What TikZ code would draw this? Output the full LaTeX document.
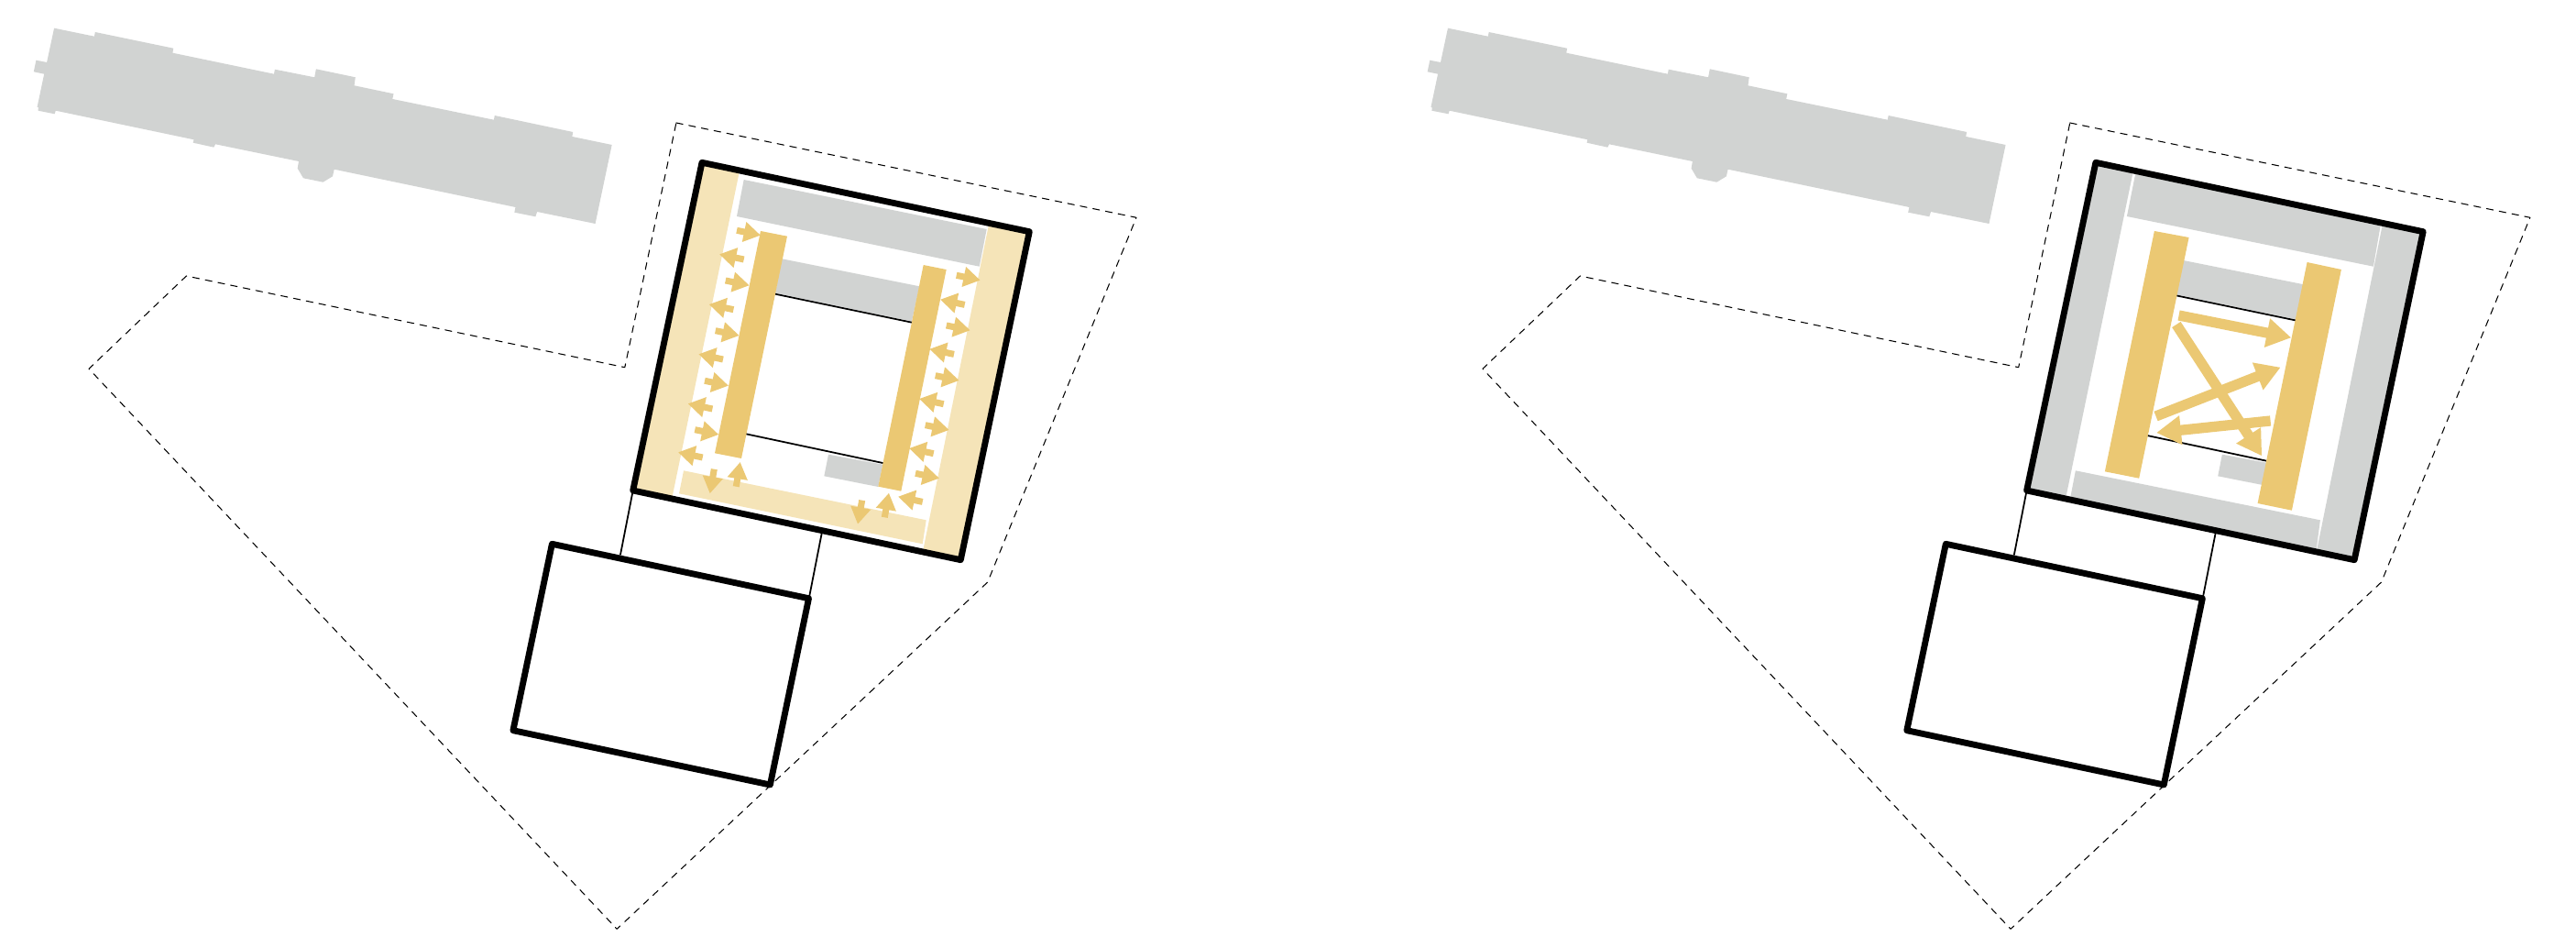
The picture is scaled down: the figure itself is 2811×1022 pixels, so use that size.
\documentclass[tikz,border=0pt]{standalone}
\usepackage{tikz}
\usetikzlibrary{calc, arrows.meta}
\usepackage{tkz-euclide}
\usepackage{xcolor}

\definecolor{oldgrey}{HTML}{D1D3D2}
\definecolor{sand}{HTML}{EBC873}
\definecolor{palesand}{HTML}{F5E4B8}

\tikzset{
    wall/.style = {black, line width = 1.95pt, line join = round},
    thinline/.style = {black, line width = 0.5pt},
    boundary/.style = {black, line width = 0.3pt, dash pattern = on 2.1pt off 1.9pt},
    smallflow/.style = {sand, line width = 2pt, -{Triangle[length = 5.2pt, width = 6pt]}},
    bigflow/.style = {sand, line width = 3.2pt, -{Triangle[length = 7.6pt, width = 8.6pt]}}
}

% what both panels share
\newcommand{\siteshapes}{
    \fill[oldgrey] (59.1,-30.7) -- (102.9,-39.7) -- (103.8,-35) -- (189.2,-52.7) -- (188.4,-57.7)
        -- (299,-80.7) -- (299.9,-75.7) -- (343.2,-84.3) -- (344.9,-75.3) -- (387.8,-84.3)
        -- (386.6,-93.3) -- (429.5,-102.3) -- (428.3,-108) -- (538.9,-130.7) -- (539.8,-126)
        -- (625.2,-144) -- (624.4,-149) -- (667.7,-158) -- (649.6,-244) -- (586.1,-231)
        -- (584.4,-236.3) -- (561.3,-231.7) -- (562.5,-226) -- (364.7,-184.7) -- (363,-192.3)
        -- (352.5,-198.7) -- (331,-194.3) -- (324.7,-183.7) -- (326,-176) -- (235.1,-157.3)
        -- (233.4,-160.7) -- (210.7,-155.7) -- (211.5,-152.3) -- (60.8,-120.7) -- (59.6,-124.3)
        -- (41.5,-120.7) -- (41.9,-117.3) -- (40.6,-116.7) -- (48.2,-80.7) -- (36.8,-78.3)
        -- (39.4,-65.7) -- (51.1,-68) -- cycle;
    \tkzDefPoints{737.9/-134/S, 1240/-237.3/T, 1077.7/-635/U, 673.2/-1013.3/V, 97/-402.3/W, 203.4/-301/X, 681.8/-400.7/Y}
    \tkzDefPoints{766/-177.3/A, 1123.3/-252.7/B, 1048.3/-610.7/C, 690.7/-535/D}
    \tkzDefPoints{602.4/-593.3/E, 882.5/-652.7/F, 840.4/-856/G, 559.9/-796.7/H}
    \tkzDefPoints{677/-605/J, 896.7/-581.7/K, 883.3/-650/L}
    \tkzDefPoints{807.3/-185/M, 733.3/-543.3/N, 1079.3/-243.3/P, 1006.9/-602/Q}
    \tkzDefPoints{853.3/-282.3/R1, 1003.3/-312.3/R2, 995/-350.5/R3, 846/-319.5/R4}
    \tkzDefPoints{904/-495.7/Z1, 963.3/-506.7/Z2, 958.3/-531/Z3, 899.3/-519.3/Z4}
    \tkzDefPoints{846/-320.7/I1, 995/-351.7/I2, 814/-473.3/I3, 963.3/-505/I4}
    \tkzFillPolygon[fill = oldgrey](R1,R2,R3,R4)
    \tkzFillPolygon[fill = oldgrey](Z1,Z2,Z3,Z4)
    \tkzDrawSegments[thinline](I1,I2 I3,I4)
}
\newcommand{\siteoutlines}{
    \tkzDrawPolygon[boundary](S,T,U,V,W,X,Y)
    \tkzDrawSegments[thinline](D,J K,L)
    \tkzDrawPolygon[wall](A,B,C,D)
    \tkzDrawPolygon[wall](E,F,G,H)
}

\begin{document}
\begin{tikzpicture}[x = 0.01cm, y = 0.01cm]
    \useasboundingbox (0,0) rectangle (2811,-1022);

    % left panel
    \begin{scope}
        \siteshapes
        \tkzFillPolygon[fill = palesand](A,M,N,D)
        \tkzFillPolygon[fill = palesand](P,B,C,Q)
        \tkzDefPoints{746/-513.3/a1, 1010.7/-567.3/a2, 1006.7/-593.3/a3, 741/-538.3/a4}
        \tkzFillPolygon[fill = palesand](a1,a2,a3,a4)
        \tkzDefPoints{811.7/-196/b1, 1076.7/-250/b2, 1068.7/-290.7/b3, 804/-236/b4}
        \tkzFillPolygon[fill = oldgrey](b1,b2,b3,b4)
        \tkzDefPoints{830/-252/c1, 859/-257.7/c2, 809/-500/c3, 780/-494.3/c4}
        \tkzFillPolygon[fill = sand](c1,c2,c3,c4)
        \tkzDefPoints{1007.7/-289/d1, 1032.7/-294/d2, 983.3/-535.7/d3, 958.3/-530.7/d4}
        \tkzFillPolygon[fill = sand](d1,d2,d3,d4)
        \draw[smallflow] (804,-251.3) -- (830,-256.7);
        \draw[smallflow] (791.7,-306) -- (817.7,-311.3);
        \draw[smallflow] (780.7,-360.7) -- (806.7,-366);
        \draw[smallflow] (769,-415.3) -- (795,-420.7);
        \draw[smallflow] (758.3,-468.7) -- (784.3,-474);
        \draw[smallflow] (811.7,-283) -- (785,-277.3);
        \draw[smallflow] (800.4,-337.7) -- (773.7,-332);
        \draw[smallflow] (789,-392) -- (762.3,-386.3);
        \draw[smallflow] (777.4,-446) -- (750.7,-440.3);
        \draw[smallflow] (766.7,-499) -- (740,-493.3);
        \draw[smallflow] (1043.7,-300.3) -- (1069.7,-305.7);
        \draw[smallflow] (1032.7,-355) -- (1058.7,-360.3);
        \draw[smallflow] (1020.7,-409.7) -- (1046.7,-415);
        \draw[smallflow] (1009.7,-463.7) -- (1035.7,-469);
        \draw[smallflow] (999,-516.3) -- (1025,-521.7);
        \draw[smallflow] (1052.7,-332.4) -- (1026,-326.7);
        \draw[smallflow] (1041,-386.4) -- (1014.3,-380.7);
        \draw[smallflow] (1029.7,-440.7) -- (1003,-435);
        \draw[smallflow] (1018.7,-494.7) -- (992,-489);
        \draw[smallflow] (1006.7,-547.4) -- (980,-541.7);
        \draw[smallflow] (779.3,-511.7) -- (774.7,-538.3);
        \draw[smallflow] (803.3,-530.7) -- (807.7,-504);
        \draw[smallflow] (940.7,-545.7) -- (936,-571.7);
        \draw[smallflow] (965.3,-564.3) -- (970,-537.7);
        \siteoutlines
    \end{scope}

    % right panel
    \begin{scope}[xshift = 15.2cm]
        \siteshapes
        \tkzFillPolygon[fill = oldgrey](A,M,N,D)
        \tkzFillPolygon[fill = oldgrey](P,B,C,Q)
        \tkzDefPoints{744/-513.3/a1, 1011/-567.3/a2, 1006.7/-600/a3, 738.3/-543/a4}
        \tkzFillPolygon[fill = oldgrey](a1,a2,a3,a4)
        \tkzDefPoints{810/-186/b1, 1077.3/-243/b2, 1069/-290.7/b3, 800/-236/b4}
        \tkzFillPolygon[fill = oldgrey](b1,b2,b3,b4)
        \tkzDefPoints{830/-252/c1, 867.7/-259/c2, 813.3/-521.7/c3, 776/-514.3/c4}
        \tkzFillPolygon[fill = sand](c1,c2,c3,c4)
        \tkzDefPoints{996.7/-286/d1, 1034/-294/d2, 980/-556.7/d3, 942.7/-549/d4}
        \tkzFillPolygon[fill = sand](d1,d2,d3,d4)
        \draw[bigflow] (856.7,-344) -- (979.3,-368.3);
        \draw[bigflow] (831.7,-454) -- (967.7,-400.7);
        \draw[bigflow] (854,-354) -- (947.3,-497.3);
        \draw[bigflow] (956.7,-459) -- (832.3,-472);
        \siteoutlines
    \end{scope}
\end{tikzpicture}
\end{document}
